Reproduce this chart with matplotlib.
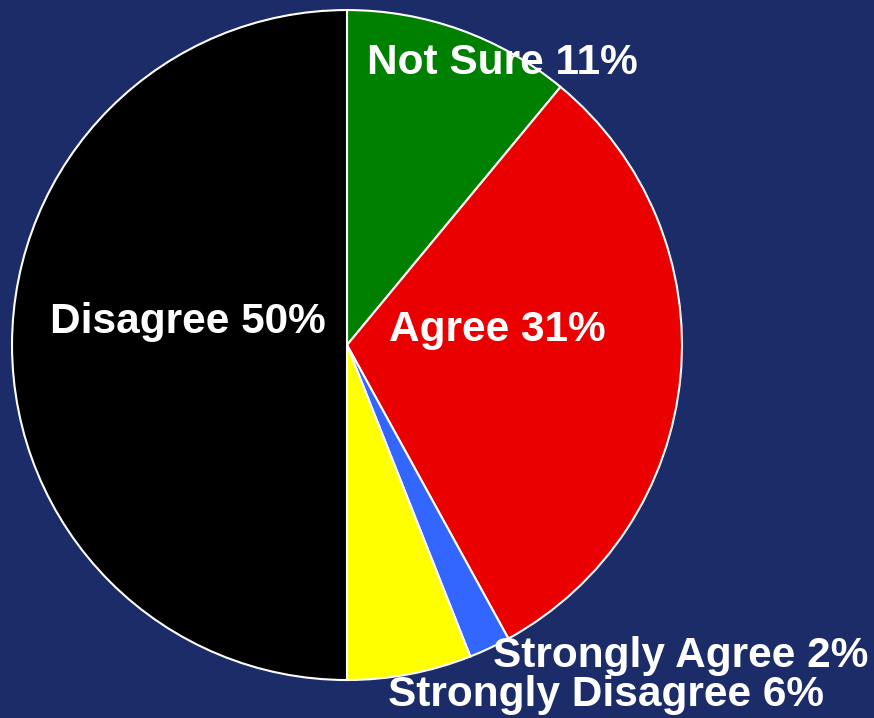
import matplotlib.pyplot as plt

# Survey answers, clockwise from 12 o'clock
labels = ["Not Sure", "Agree", "Strongly Agree", "Strongly Disagree", "Disagree"]
shares = [11, 31, 2, 6, 50]
colors = ["#008000", "#ea0000", "#3366ff", "#ffff00", "#000000"]

# Label anchor points in pie data units (radius = 1)
label_pos = [(0.463, 0.842), (0.448, 0.045), (0.997, -0.928), (0.773, -1.045), (-0.475, 0.069)]

plt.rcParams["font.family"] = ["Liberation Sans", "DejaVu Sans"]

fig = plt.figure(figsize=(8.74, 7.18), dpi=100)
fig.patch.set_facecolor("#1b2c69")

ax = fig.add_axes([0.01373, 0.0529, 0.7666, 0.9331])
ax.set_facecolor("none")
ax.pie(shares, colors=colors, startangle=90, counterclock=False,
       wedgeprops={"edgecolor": "white", "linewidth": 1.5})
ax.set_xlim(-1, 1)
ax.set_ylim(-1, 1)
ax.set_aspect("equal")
ax.axis("off")

for name, val, (x, y) in zip(labels, shares, label_pos):
    ax.text(x, y, f"{name} {val}%", color="white", fontsize=30.5, fontweight="bold",
            ha="center", va="center", clip_on=False)

fig.savefig("out.png", dpi=100, facecolor=fig.get_facecolor())
